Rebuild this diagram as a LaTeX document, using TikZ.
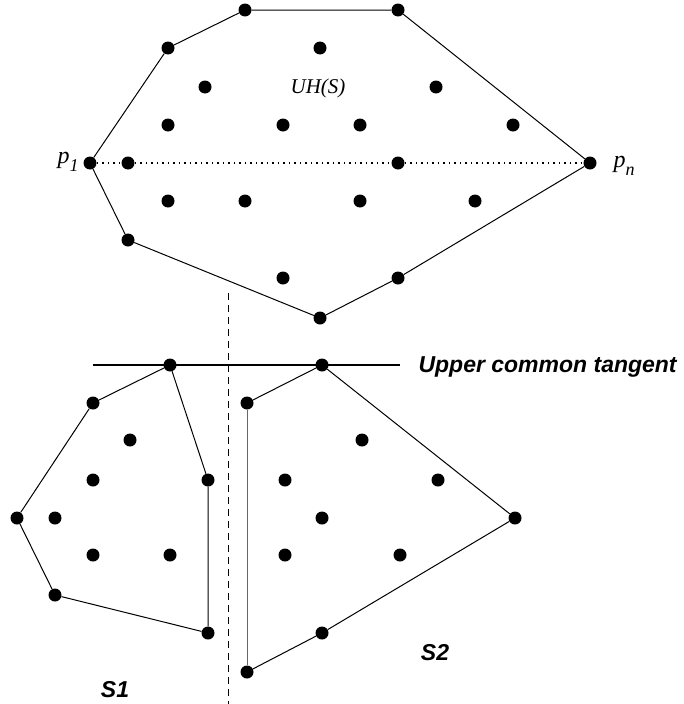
\documentclass[tikz,border=0pt]{standalone}
\usepackage{fontspec}
\setmainfont{Liberation Serif}
\setsansfont{Liberation Sans}
\begin{document}
\begin{tikzpicture}[x=1pt,y=-1pt,
  dot/.style={circle,fill=black,inner sep=0pt,minimum size=13pt},
  edge/.style={line width=1pt},
  lbl/.style={font=\fontsize{21}{23}\selectfont\itshape},
  plbl/.style={font=\fontsize{24}{26}\selectfont\itshape,inner sep=1pt},
  blbl/.style={font=\fontsize{23}{25}\selectfont\sffamily\bfseries\itshape}]
\useasboundingbox (0,0) rectangle (683,704);
% top hull
\node[dot] (p1) at (90,163) {};
\node[dot] (a1) at (168,48) {};
\node[dot] (a2) at (245,10) {};
\node[dot] (a3) at (398,10) {};
\node[dot] (pn) at (590,163) {};
\node[dot] (a5) at (398,278) {};
\node[dot] (a6) at (320,318) {};
\node[dot] (a7) at (128,240) {};
\foreach \n/\x/\y in {i1/320/48, i2/205/87, i3/436/87, i4/168/125, i5/283/125, i6/360/125, i7/513/125, i8/128/163, i9/398/163, i10/168/201, i11/245/201, i12/360/201, i13/475/201, i14/283/278}
  \node[dot] (\n) at (\x,\y) {};
\draw[edge] (p1) -- (a1) -- (a2) -- (a3) -- (pn) -- (a5) -- (a6) -- (a7) -- (p1);
\draw[line width=1.2pt,dash pattern=on 1.3pt off 4.2pt] (p1) -- (i8) -- (i9) -- (pn);
\node[plbl] (lp1) at (68,162) {p\raisebox{-8pt}{\fontsize{18}{20}\selectfont\itshape 1}};
\node[plbl] (lpn) at (624,166) {p\raisebox{-8pt}{\fontsize{18}{20}\selectfont\itshape n}};
\node[lbl] (uh) at (318,88) {UH(S)};
% bottom
\coordinate (t1) at (93,365);
\coordinate (t2) at (400,365);
\draw[line width=1.5pt] (t1) -- (t2);
\coordinate (d1) at (228,293);
\coordinate (d2) at (228,704);
\draw[line width=1pt,dash pattern=on 7pt off 5pt] (d1) -- (d2);
\node[blbl,anchor=west] (uct) at (415,367) {Upper common tangent};
% S1
\node[dot] (b1) at (170,365) {};
\node[dot] (b2) at (93,403) {};
\node[dot] (b3) at (17,518) {};
\node[dot] (b4) at (55,595) {};
\node[dot] (b5) at (208,633) {};
\node[dot] (b6) at (208,480) {};
\foreach \n/\x/\y in {j1/130/440, j2/93/480, j3/55/518, j4/93/555, j5/170/555}
  \node[dot] (\n) at (\x,\y) {};
\draw[edge] (b1) -- (b2) -- (b3) -- (b4) -- (b5) -- (b6) -- (b1);
\node[blbl] (s1) at (115,690) {S1};
% S2
\node[dot] (c1) at (322,365) {};
\node[dot] (c2) at (515,518) {};
\node[dot] (c3) at (322,633) {};
\node[dot] (c4) at (247,672) {};
\node[dot] (c5) at (247,403) {};
\foreach \n/\x/\y in {k1/362/440, k2/285/480, k3/438/480, k4/322/518, k5/285/555, k6/400/555}
  \node[dot] (\n) at (\x,\y) {};
\draw[edge] (c1) -- (c2) -- (c3) -- (c4);
\draw[edge,black!60] (c4) -- (c5);
\draw[edge] (c5) -- (c1);
\node[blbl] (s2) at (435,653) {S2};
\end{tikzpicture}
\end{document}
